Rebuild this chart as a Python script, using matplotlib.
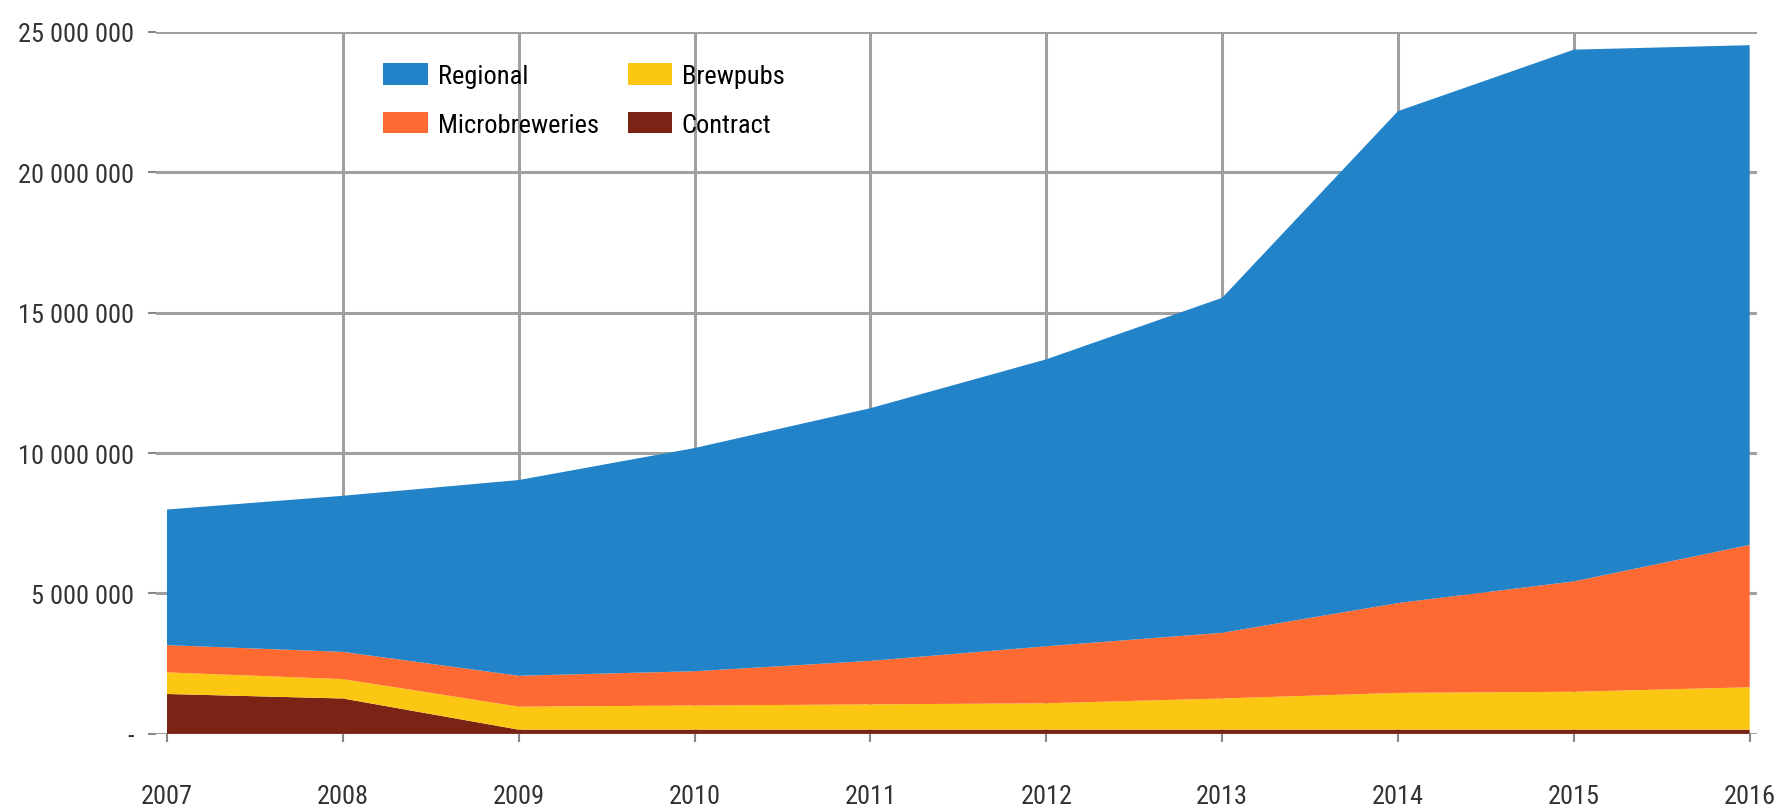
import numpy as np
import matplotlib.pyplot as plt
from matplotlib.ticker import FuncFormatter

years = [2007, 2008, 2009, 2010, 2011, 2012, 2013, 2014, 2015, 2016]
contract = [1.42, 1.26, 0.15, 0.15, 0.15, 0.15, 0.15, 0.15, 0.15, 0.15]
brewpubs = [0.77, 0.69, 0.82, 0.86, 0.90, 0.94, 1.11, 1.31, 1.35, 1.51]
micro = [0.97, 0.97, 1.10, 1.22, 1.55, 2.03, 2.34, 3.20, 3.93, 5.07]
regional = [4.83, 5.56, 6.97, 7.95, 9.00, 10.22, 11.93, 17.52, 18.94, 17.80]

labels = ['Contract', 'Brewpubs', 'Microbreweries', 'Regional']
colors = ['#7b2416', '#fbc712', '#ff6a33', '#2383c9']

plt.rcParams['font.family'] = ['Roboto Condensed', 'Liberation Sans', 'DejaVu Sans']

fig = plt.figure(figsize=(17.84, 8.12), dpi=100)
ax = fig.add_axes([0.0877, 0.095, 0.897, 0.8644])

data = np.array([contract, brewpubs, micro, regional]) * 1e6
ax.stackplot(years, data, colors=colors, labels=labels, zorder=2)

ax.set_xlim(2006.94, 2016.04)
ax.set_ylim(0, 25e6)
ax.set_xticks(years)
ax.set_yticks(np.arange(0, 25e6 + 1, 5e6))

def fmt(v, pos):
    if v == 0:
        return '-'
    return '{:,.0f}'.format(v).replace(',', ' ')

ax.yaxis.set_major_formatter(FuncFormatter(fmt))
ax.grid(axis='y', color='#a0a0a0', linewidth=2.2, zorder=0)
for yr in years[1:-1]:
    ax.axvline(yr, color='#a0a0a0', linewidth=2.2, zorder=0)
ax.set_axisbelow(True)

for s in ax.spines.values():
    s.set_visible(False)
ax.tick_params(axis='both', colors='#888888', labelcolor='#333333',
               labelsize=19, length=6, width=1.5)
ax.tick_params(axis='x', pad=30)
ax.tick_params(axis='y', pad=10)

h, l = ax.get_legend_handles_labels()
order = [3, 2, 1, 0]
ax.legend([h[i] for i in order], [l[i] for i in order], ncol=2,
          loc='upper left', bbox_to_anchor=(0.127, 0.99), frameon=False,
          fontsize=19, handlelength=1.7, handleheight=0.9,
          columnspacing=1.1, labelspacing=0.9, handletextpad=0.35)

fig.savefig('out.png', dpi=100)
